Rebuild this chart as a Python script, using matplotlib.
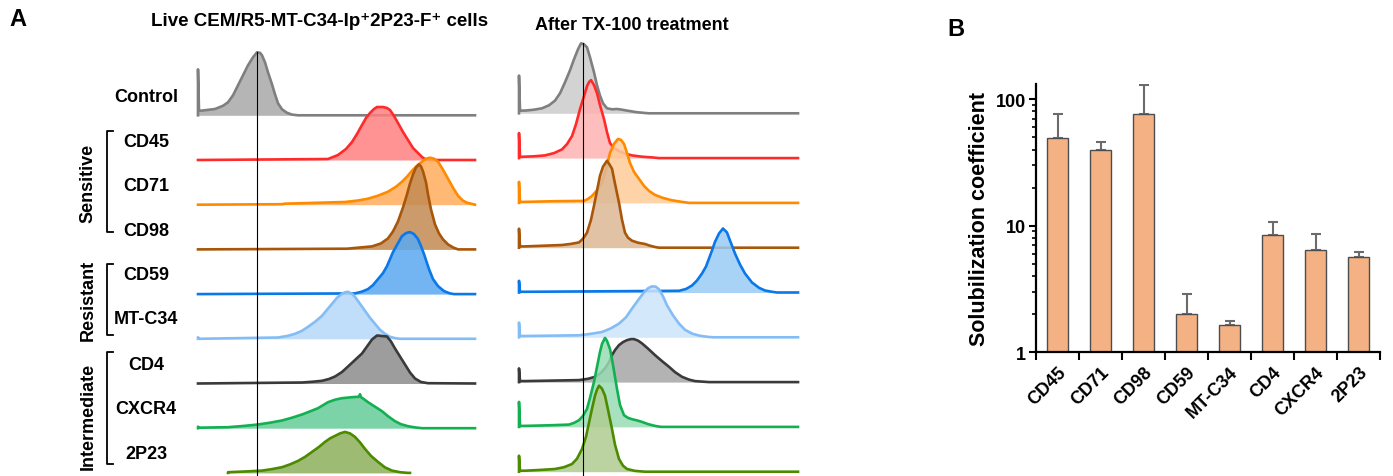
import matplotlib
matplotlib.use("Agg")
import matplotlib.pyplot as plt
from matplotlib.ticker import FixedLocator, NullFormatter, LogLocator
import numpy as np

plt.rcParams['font.family'] = ['Liberation Sans', 'DejaVu Sans']
plt.rcParams['font.weight'] = 'bold'

# ---------------- Panel A data: traced histogram outlines (channel, count) ----------------
markers = ["Control", "CD45", "CD71", "CD98", "CD59", "MT-C34", "CD4", "CXCR4", "2P23"]
groups = [("Sensitive", 1, 3), ("Resistant", 4, 5), ("Intermediate", 6, 8)]

live_control = [(0, 0), (0, 46), (1, 4.7), (4, 4.7), (17, 6.3), (25, 9.5), (30, 13), (35, 20), (40, 30), (45, 40),
                (50, 50), (55, 58), (59, 63), (62, 62.5), (64, 60), (67, 53), (70, 43), (74, 31), (77, 21), (80, 12),
                (84, 6), (89, 2.5), (94, 0.7), (100, 0), (277, 0)]
live_cd45 = [(0, 0), (130, 1), (140, 5), (148, 11), (154, 18), (159, 26), (164, 35), (168, 42), (172, 47), (176, 51),
             (179, 53), (185, 53), (189, 52), (192, 50), (196, 44), (200, 37), (205, 28), (210, 20), (215, 12),
             (220, 7), (224, 3), (227, 1), (232, 0), (277, 0)]
live_cd71 = [(0, 0), (85, 0.5), (86, 1), (147, 2.7), (160, 4.2), (170, 6), (180, 9), (190, 13), (198, 18), (204, 23),
             (209, 28), (214, 34), (219, 39), (224, 43), (228, 46), (232, 47), (236, 46), (240, 43), (245, 35),
             (250, 26), (255, 17), (260, 9), (265, 4), (269, 2), (277, 0)]
live_cd98 = [(0, 0), (149, 0.7), (174, 3), (183, 6), (190, 11), (195, 18), (200, 28), (205, 42), (209, 55), (212, 66),
             (215, 75), (218, 82), (221, 85), (223, 83), (225, 78), (228, 67), (230, 55), (233, 40), (237, 25),
             (241, 16), (245, 10), (250, 5), (255, 2), (260, 0), (277, 0)]
live_cd59 = [(0, 0), (157, 0.7), (164, 2.5), (170, 5), (175, 9), (180, 15), (185, 21), (189, 28), (195, 42), (200, 51),
             (204, 58), (208, 61), (212, 62), (216, 60), (220, 55), (223, 48), (226, 40), (231, 25), (235, 15),
             (240, 8), (246, 3), (252, 0.7), (256, 0), (277, 0)]
live_mtc34 = [(0, 0), (0, 1.5), (1, 0), (80, 1.3), (90, 3), (97, 5), (104, 8), (110, 12), (117, 17), (124, 23),
              (129, 29), (134, 35), (139, 41), (144, 45), (147, 46.5), (150, 47), (154, 45), (157, 42), (162, 35),
              (167, 28), (172, 21), (177, 15), (182, 9), (187, 5), (192, 2), (197, 0.7), (202, 0), (277, 0)]
live_cd4 = [(0, 0), (104, 1), (115, 1.8), (124, 2.7), (131, 4.5), (137, 7), (144, 11.5), (150, 17), (157, 23.5),
            (164, 30), (169, 37), (174, 44), (179, 48), (184, 47.5), (189, 47), (193, 42), (197, 35), (202, 27),
            (207, 19), (212, 11), (217, 5), (223, 1.5), (230, 0.3), (277, 0)]
live_cxcr4 = [(0, 0), (0, 1.5), (1, 0.5), (30, 1), (45, 2.2), (60, 3.7), (72, 5.5), (84, 7.7), (94, 10.5),
              (104, 13.7), (112, 16.8), (120, 20), (125, 23), (130, 26), (137, 28.5), (144, 30), (154, 31),
              (161, 31.5), (162, 34), (163, 31), (166, 29), (170, 26), (177, 21.5), (184, 17), (190, 12), (197, 7),
              (203, 4), (210, 2), (217, 0.8), (224, 0), (277, 0)]
live_2p23 = [(30, 0), (30, 0.7), (47, 1.4), (64, 2.3), (74, 3.8), (84, 5.7), (92, 8.5), (100, 12), (107, 16),
             (114, 21), (121, 26), (127, 31), (132, 34.5), (137, 37), (142, 39.5), (147, 41), (152, 39.5), (157, 36),
             (162, 30.5), (167, 24), (173, 17), (180, 11), (187, 5.5), (194, 2.3), (202, 0.7), (210, 0), (212, 0)]

tx_control = [(0, 0), (0, 37.7), (1, 2.7), (6, 2.7), (15, 3.6), (23, 5), (30, 8), (36, 12.7), (41, 20), (46, 31),
              (51, 43), (55, 54), (59, 64), (62, 70), (65, 69), (68, 66), (71, 56), (75, 41), (78, 28), (81, 17.7),
              (84, 10), (88, 5), (93, 4), (98, 4.3), (103, 3.6), (108, 2.7), (117, 1.2), (126, 0.3), (130, 0),
              (279, 0)]
tx_cd45 = [(0, 0), (0, 25), (1, 1.3), (3, 1.3), (15, 1.8), (26, 2.7), (35, 5), (43, 8.7), (48, 14), (53, 22),
           (57, 34), (61, 49), (65, 62), (68, 72), (70, 76), (72, 78), (75, 73), (78, 65), (81, 53), (85, 39),
           (88, 26), (91, 15), (95, 10), (100, 7), (106, 4.5), (113, 2.7), (123, 1.4), (133, 0.7), (140, 0),
           (279, 0)]
tx_cd71 = [(0, 0), (0, 21), (1, 1), (5, 1), (36, 1.7), (65, 2), (69, 4), (73, 7), (78, 12.5), (83, 20), (87, 34),
           (91, 50), (95, 59), (99, 64), (102, 63), (105, 59), (108, 50), (111, 40), (115, 31), (120, 24), (125, 17),
           (130, 12), (136, 8), (143, 5.3), (152, 2.8), (163, 1), (170, 0), (279, 0)]
tx_cd98 = [(0, 0), (0, 19), (1, 1.3), (6, 1.3), (25, 2), (43, 2.7), (52, 3.8), (60, 5.3), (64, 9), (68, 15),
           (72, 28), (75, 42), (78, 57), (81, 72), (84, 81), (88, 87), (90, 84), (93, 79), (96, 64), (100, 45),
           (103, 28), (106, 15), (109, 10), (113, 7), (119, 5), (126, 3.7), (131, 2), (136, 0.7), (140, 0), (279, 0)]
tx_cd59 = [(0, 0), (0, 11.7), (1, 0.7), (6, 0.7), (160, 1.7), (167, 3.5), (173, 7), (178, 12), (183, 19),
           (187, 26), (190, 34), (193, 42), (196, 50.7), (200, 59), (204, 64), (208, 60), (211, 52), (216, 39),
           (221, 28), (226, 19), (233, 10), (240, 4.7), (246, 2), (253, 0.7), (258, 0), (279, 0)]
tx_mtc34 = [(0, 0), (0, 14.7), (1, 1.3), (6, 1.3), (60, 2), (72, 3.5), (83, 5.3), (92, 9), (100, 13.7), (107, 20),
            (113, 28.7), (119, 37), (125, 45), (129, 49), (133, 51), (137, 50.5), (140, 48), (144, 41), (148, 32),
            (154, 22), (160, 13.7), (166, 7.5), (173, 3.7), (181, 1.5), (190, 0.3), (195, 0), (279, 0)]
tx_cd4 = [(0, 0), (0, 13.7), (1, 1), (6, 1), (60, 2), (69, 3.3), (76, 5.3), (81, 8.5), (86, 13.7), (90, 20),
          (93, 27), (96, 32), (100, 37), (104, 40), (108, 42), (112, 43), (115, 43), (119, 41.5), (123, 38.7),
          (129, 33.5), (136, 27), (143, 21), (150, 15.3), (156, 10), (163, 5.3), (170, 2.5), (176, 1), (190, 0),
          (279, 0)]
tx_cxcr4 = [(0, 0), (0, 25), (1, 1), (6, 1), (30, 1.6), (50, 2.3), (55, 4), (60, 6.7), (64, 11), (68, 18),
            (71, 29), (75, 45), (78, 60), (81, 75), (83, 83), (86, 89), (88, 86), (91, 78), (94, 62), (98, 38),
            (101, 22), (105, 11.7), (109, 9), (113, 7.7), (118, 6.5), (123, 5), (129, 2.8), (136, 1), (142, 0),
            (279, 0)]
tx_2p23 = [(0, 0), (0, 16), (1, 1), (6, 1), (20, 1.7), (36, 2.7), (45, 4.5), (53, 7.7), (58, 13), (63, 22.7),
           (67, 35), (70, 49), (73, 63), (76, 76), (78, 82), (80, 86), (83, 83), (86, 76), (89, 62), (93, 42.7),
           (96, 27), (100, 12.7), (104, 6), (108, 2.7), (116, 0.8), (126, 0), (279, 0)]

live_hists = [live_control, live_cd45, live_cd71, live_cd98, live_cd59, live_mtc34, live_cd4, live_cxcr4, live_2p23]
tx_hists = [tx_control, tx_cd45, tx_cd71, tx_cd98, tx_cd59, tx_mtc34, tx_cd4, tx_cxcr4, tx_2p23]

line_colors = ["#7f7f7f", "#ff2a2a", "#ff8a00", "#a8560a", "#0a78e8", "#84bdf5", "#3a3a3a", "#12b050", "#4c8a00"]
live_fills = ["#a8a8a8", "#ff8080", "#ffad5c", "#c48a52", "#5aa8f2", "#b5d8fa", "#8c8c8c", "#66cc99", "#8caf5a"]
tx_fills = ["#cccccc", "#ffb3b3", "#ffcc99", "#dcb896", "#99ccf5", "#cce4fb", "#a6a6a6", "#99dcb5", "#b0cc90"]

# ---------------- Panel B data ----------------
categories = ["CD45", "CD71", "CD98", "CD59", "MT-C34", "CD4", "CXCR4", "2P23"]
sol_coef = [49.5, 39.5, 76, 2.0, 1.63, 8.4, 6.4, 5.6]
sol_err = [27, 6.5, 54, 0.87, 0.14, 2.3, 2.2, 0.57]

# ---------------- figure ----------------
W, H = 1393, 477
fig = plt.figure(figsize=(W / 100, H / 100), dpi=100)


def px_axes(x0, x1, y0, y1):
    return fig.add_axes([x0 / W, 1 - y1 / H, (x1 - x0) / W, (y1 - y0) / H])


def draw_column(ax, hists, fills, alpha, gap, ref_ch):
    for i, (h, lc, fc) in enumerate(zip(hists, line_colors, fills)):
        x = np.array([p[0] for p in h], dtype=float)
        y = np.array([p[1] for p in h], dtype=float)
        off = -i * gap
        ax.fill_between(x, off, off + y, color=fc, alpha=alpha, lw=0, zorder=2 * i + 1)
        ax.plot(x, off + y, color=lc, lw=1.9, zorder=2 * i + 2, solid_joinstyle='round')
    top = max(p[1] for p in hists[0])
    ax.plot([ref_ch, ref_ch], [top, ax.get_ylim()[0]], color="black", lw=0.8, zorder=50)


# left column (live cells)
axL = px_axes(190, 485, 0, H)
axL.set_xlim(-8, 287)
axL.set_ylim(116.3 - H, 116.3)
axL.axis('off')
draw_column(axL, live_hists, live_fills, 0.85, 44.7, 58.7)

# right column (after TX-100)
axR = px_axes(510, 805, 0, H)
axR.set_xlim(-9, 286)
axR.set_ylim(114.3 - H, 114.3)
axR.axis('off')
draw_column(axR, tx_hists, tx_fills, 0.85, 44.8, 63.7)

# overlay for labels (pixel coordinates)
ov = fig.add_axes([0, 0, 1, 1], zorder=-1)
ov.set_xlim(0, W)
ov.set_ylim(H, 0)
ov.axis('off')

ov.text(18, 20, "A", fontsize=17, fontweight='bold', ha='center', va='center')
ov.text(956, 29, "B", fontsize=17, fontweight='bold', ha='center', va='center')
ov.text(320, 22, "Live CEM/R5-MT-C34-Ip\u207a2P23-F\u207a cells", fontsize=13.5, fontweight='bold',
        ha='center', va='center')
ov.text(632, 25, "After TX-100 treatment", fontsize=13, fontweight='bold', ha='center', va='center')

row_label_y = [98, 143, 187, 232, 276, 320, 366, 410, 455]
for lab, y in zip(markers, row_label_y):
    ov.text(146, y, lab, fontsize=13, fontweight='bold', ha='center', va='center')

group_spans = {"Sensitive": (132, 233, 183), "Resistant": (265, 336, 300), "Intermediate": (353, 465, 416)}
for g, a, b in groups:
    y0, y1, yc = group_spans[g]
    ov.plot([113, 106.5, 106.5, 113], [y0, y0, y1, y1], color='black', lw=1.3)
    ov.text(88, yc, g, fontsize=13, fontweight='bold', rotation=90, ha='center', va='center')

# ---------------- Panel B ----------------
axB = px_axes(1036, 1380, 85, 353)
xpos = np.arange(len(categories))
axB.bar(xpos, sol_coef, width=0.48, color="#f4b183", edgecolor="#4d4d4d", linewidth=1.0, zorder=2)
axB.errorbar(xpos, sol_coef, yerr=[np.zeros(len(sol_err)), sol_err], fmt='none', ecolor="#6b6b6b",
             elinewidth=1.5, capsize=3.5, capthick=1.5, zorder=1)
axB.set_yscale('log')
axB.set_ylim(1, 132)
axB.set_xlim(-0.5, len(categories) - 0.5)
axB.set_yticks([1, 10, 100])
axB.set_yticklabels(["1", "10", "100"])
axB.yaxis.set_minor_locator(LogLocator(base=10, subs=np.arange(2, 10)))
axB.yaxis.set_minor_formatter(NullFormatter())
axB.set_xticks(xpos)
axB.set_xticklabels(categories, rotation=45, ha='right', rotation_mode='anchor')
axB.xaxis.set_minor_locator(FixedLocator(np.arange(-0.5, len(categories), 1.0)))
axB.tick_params(axis='x', which='major', length=0, pad=8, labelsize=13)
axB.tick_params(axis='x', which='minor', length=6, width=1.5, direction='out')
axB.tick_params(axis='y', which='major', length=5, width=1.5, labelsize=13, pad=2)
axB.tick_params(axis='y', which='minor', length=3, width=1.2)
for lab in axB.get_xticklabels() + axB.get_yticklabels():
    lab.set_fontweight('bold')
for s in ['top', 'right']:
    axB.spines[s].set_visible(False)
for s in ['left', 'bottom']:
    axB.spines[s].set_linewidth(1.6)
axB.set_ylabel("Solubilization coefficient", fontsize=15.5, fontweight='bold', labelpad=4)

fig.savefig("out.png", dpi=100)
